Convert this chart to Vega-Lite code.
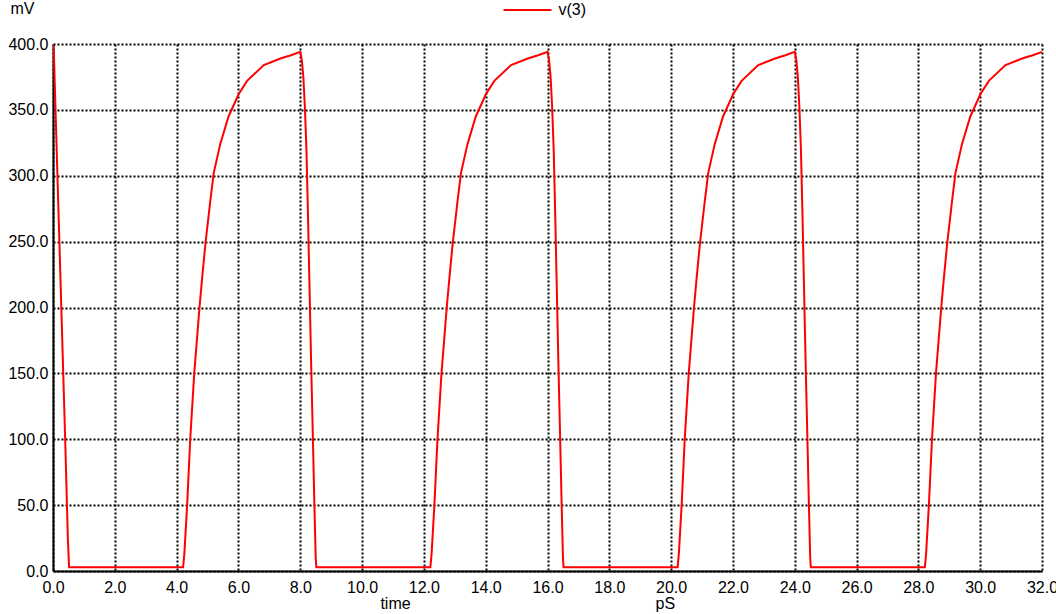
{
  "$schema": "https://vega.github.io/schema/vega-lite/v6.json",
  "autosize": "none",
  "width": 989,
  "height": 527,
  "padding": {"left": 53, "top": 44, "right": 14, "bottom": 43},
  "background": "white",
  "config": {
    "view": {"stroke": null},
    "font": "Liberation Sans",
    "axis": {"labelFont": "Liberation Sans", "titleFont": "Liberation Sans", "labelFontSize": 16, "titleFontSize": 16, "titleFontWeight": "normal", "labelColor": "#000", "titleColor": "#000"},
    "legend": {"labelFont": "Liberation Sans", "labelFontSize": 16, "labelColor": "#000"}
  },
  "data": {"values": [
    {"t": 0, "v": 400}, {"t": 0.03, "v": 392}, {"t": 0.1, "v": 335}, {"t": 0.2, "v": 255}, {"t": 0.3, "v": 175}, {"t": 0.4, "v": 95}, {"t": 0.48, "v": 25}, {"t": 0.52, "v": 2.8},
    {"t": 4.21, "v": 2.8}, {"t": 4.25, "v": 13}, {"t": 4.34, "v": 50}, {"t": 4.44, "v": 100}, {"t": 4.57, "v": 150}, {"t": 4.74, "v": 200}, {"t": 4.82, "v": 221}, {"t": 4.93, "v": 248}, {"t": 5.09, "v": 281}, {"t": 5.2, "v": 302}, {"t": 5.41, "v": 324}, {"t": 5.68, "v": 345}, {"t": 6.01, "v": 362}, {"t": 6.28, "v": 372}, {"t": 6.82, "v": 384}, {"t": 7.36, "v": 389}, {"t": 7.7, "v": 391.5}, {"t": 8.0, "v": 394},
    {"t": 8.05, "v": 388}, {"t": 8.1, "v": 375}, {"t": 8.15, "v": 352}, {"t": 8.2, "v": 320}, {"t": 8.25, "v": 270}, {"t": 8.3, "v": 215}, {"t": 8.35, "v": 160}, {"t": 8.4, "v": 110}, {"t": 8.45, "v": 58}, {"t": 8.5, "v": 10}, {"t": 8.52, "v": 2.8},
    {"t": 12.21, "v": 2.8}, {"t": 12.25, "v": 13}, {"t": 12.34, "v": 50}, {"t": 12.44, "v": 100}, {"t": 12.57, "v": 150}, {"t": 12.74, "v": 200}, {"t": 12.82, "v": 221}, {"t": 12.93, "v": 248}, {"t": 13.09, "v": 281}, {"t": 13.2, "v": 302}, {"t": 13.41, "v": 324}, {"t": 13.68, "v": 345}, {"t": 14.01, "v": 362}, {"t": 14.28, "v": 372}, {"t": 14.82, "v": 384}, {"t": 15.36, "v": 389}, {"t": 15.7, "v": 391.5}, {"t": 16.0, "v": 394},
    {"t": 16.05, "v": 388}, {"t": 16.1, "v": 375}, {"t": 16.15, "v": 352}, {"t": 16.2, "v": 320}, {"t": 16.25, "v": 270}, {"t": 16.3, "v": 215}, {"t": 16.35, "v": 160}, {"t": 16.4, "v": 110}, {"t": 16.45, "v": 58}, {"t": 16.5, "v": 10}, {"t": 16.52, "v": 2.8},
    {"t": 20.21, "v": 2.8}, {"t": 20.25, "v": 13}, {"t": 20.34, "v": 50}, {"t": 20.44, "v": 100}, {"t": 20.57, "v": 150}, {"t": 20.74, "v": 200}, {"t": 20.82, "v": 221}, {"t": 20.93, "v": 248}, {"t": 21.09, "v": 281}, {"t": 21.2, "v": 302}, {"t": 21.41, "v": 324}, {"t": 21.68, "v": 345}, {"t": 22.01, "v": 362}, {"t": 22.28, "v": 372}, {"t": 22.82, "v": 384}, {"t": 23.36, "v": 389}, {"t": 23.7, "v": 391.5}, {"t": 24.0, "v": 394},
    {"t": 24.05, "v": 388}, {"t": 24.1, "v": 375}, {"t": 24.15, "v": 352}, {"t": 24.2, "v": 320}, {"t": 24.25, "v": 270}, {"t": 24.3, "v": 215}, {"t": 24.35, "v": 160}, {"t": 24.4, "v": 110}, {"t": 24.45, "v": 58}, {"t": 24.5, "v": 10}, {"t": 24.52, "v": 2.8},
    {"t": 28.21, "v": 2.8}, {"t": 28.25, "v": 13}, {"t": 28.34, "v": 50}, {"t": 28.44, "v": 100}, {"t": 28.57, "v": 150}, {"t": 28.74, "v": 200}, {"t": 28.82, "v": 221}, {"t": 28.93, "v": 248}, {"t": 29.09, "v": 281}, {"t": 29.2, "v": 302}, {"t": 29.41, "v": 324}, {"t": 29.68, "v": 345}, {"t": 30.01, "v": 362}, {"t": 30.28, "v": 372}, {"t": 30.82, "v": 384}, {"t": 31.36, "v": 389}, {"t": 31.7, "v": 391.5}, {"t": 32.0, "v": 394}
  ]},
  "layer": [
    {
      "mark": {"type": "line", "strokeWidth": 2, "clip": true},
      "encoding": {
        "x": {"field": "t", "type": "quantitative",
          "scale": {"domain": [0, 32], "nice": false, "zero": false},
          "axis": {"orient": "bottom", "values": [0,2,4,6,8,10,12,14,16,18,20,22,24,26,28,30,32], "format": ".1f",
            "labelFlush": false, "labelOverlap": false, "labelBound": false, "ticks": false, "labelPadding": 8,
            "domainColor": "#000", "domainWidth": 2,
            "grid": true, "gridColor": "#000", "gridDash": [2, 2], "gridWidth": 2, "gridOpacity": 1,
            "title": "time", "titleX": 342, "titleY": 37, "titleAlign": "center", "titleBaseline": "alphabetic", "titleAnchor": null}},
        "y": {"field": "v", "type": "quantitative",
          "scale": {"domain": [0, 400], "nice": false},
          "axis": {"values": [0,50,100,150,200,250,300,350,400], "format": ".1f",
            "labelFlush": false, "labelOverlap": false, "ticks": false, "labelPadding": 5,
            "domainColor": "#000", "domainWidth": 2,
            "grid": true, "gridColor": "#000", "gridDash": [2, 2], "gridWidth": 2, "gridOpacity": 1,
            "title": "mV", "titleAngle": 0, "titleX": -43, "titleY": -31, "titleAlign": "left", "titleBaseline": "alphabetic", "titleAnchor": null}},
        "color": {"datum": "v(3)", "type": "nominal",
          "scale": {"range": ["#ff0000"]},
          "legend": {"title": null, "orient": "none", "legendX": 449.5, "legendY": -59, "symbolType": "stroke", "symbolSize": 2304, "symbolStrokeWidth": 2, "labelOffset": 6, "padding": 0}}
      }
    },
    {
      "mark": {"type": "line", "strokeOpacity": 0, "clip": true},
      "encoding": {
        "x": {"field": "t", "type": "quantitative",
          "scale": {"domain": [0, 32], "nice": false, "zero": false},
          "axis": {"orient": "bottom", "labels": false, "ticks": false, "domain": false, "grid": false,
            "title": "pS", "titleX": 602, "titleY": 37, "titleAlign": "left", "titleBaseline": "alphabetic", "titleAnchor": null}},
        "y": {"field": "v", "type": "quantitative"}
      }
    }
  ],
  "resolve": {"axis": {"x": "independent"}}
}
